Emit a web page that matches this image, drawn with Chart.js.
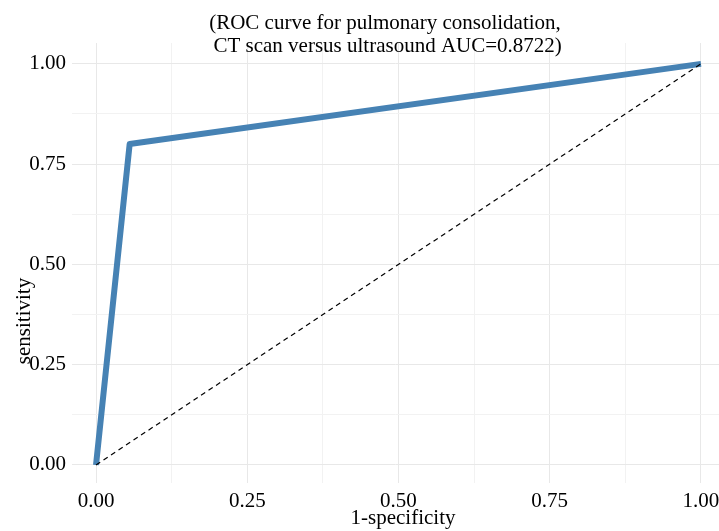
<!DOCTYPE html>
<html>
<head>
<meta charset="utf-8">
<script src="https://cdn.jsdelivr.net/npm/chart.js@4/dist/chart.umd.min.js"></script>
<style>
  html, body { margin: 0; padding: 0; background: #fff; }
  #wrap { width: 719px; height: 531px; position: relative; }
</style>
</head>
<body>
<div id="wrap"><canvas id="roc"></canvas></div>
<script>
// ROC curve values
const fpr = [0, 0.0556, 1];          // 1-specificity
const tpr = [0, 0.80, 1];            // sensitivity
const refX = [0, 1];                 // chance line
const refY = [0, 1];
const majorTicks = [0, 0.25, 0.5, 0.75, 1];
const tickLabels = ['0.00', '0.25', '0.50', '0.75', '1.00'];
const gridTicks = [0, 0.125, 0.25, 0.375, 0.5, 0.625, 0.75, 0.875, 1];

const titleLines = ['(ROC curve for pulmonary consolidation,', ' CT scan versus ultrasound AUC=0.8722)'];
const xTitle = '1-specificity';
const yTitle = 'sensitivity';

const FONT = '"Liberation Serif", "Times New Roman", serif';

function isMajor(v) {
  return majorTicks.some(m => Math.abs(m - v) < 1e-9);
}
function labelFor(v) {
  const i = majorTicks.findIndex(m => Math.abs(m - v) < 1e-9);
  return i >= 0 ? tickLabels[i] : '';
}

// titles drawn as text on top, placed like the ggplot original
const textPlugin = {
  id: 'textPlugin',
  afterDraw(chart) {
    const ctx = chart.ctx;
    ctx.save();
    ctx.fillStyle = '#000';
    ctx.font = '21px ' + FONT;
    ctx.textAlign = 'center';
    ctx.textBaseline = 'middle';
    ctx.fillText(titleLines[0], 385, 23);
    ctx.fillText(titleLines[1], 385, 46);

    ctx.fillText(xTitle, 403, 518);

    ctx.translate(24, 321);
    ctx.rotate(-Math.PI / 2);
    ctx.fillText(yTitle, 0, 0);
    ctx.restore();
  }
};

function gridColor(c) {
  return isMajor(c.tick.value) ? '#e8e8e8' : '#f2f2f2';
}

new Chart(document.getElementById('roc'), {
  type: 'line',
  data: {
    datasets: [{
      data: fpr.map((x, i) => ({ x: x, y: tpr[i] })),
      borderColor: '#4682B4',
      borderWidth: 6,
      borderCapStyle: 'butt',
      borderJoinStyle: 'round',
      pointRadius: 0,
      tension: 0,
      fill: false,
      order: 1
    }, {
      data: refX.map((x, i) => ({ x: x, y: refY[i] })),
      borderColor: '#000',
      borderWidth: 1.2,
      borderDash: [5, 4],
      pointRadius: 0,
      tension: 0,
      fill: false,
      order: 0
    }]
  },
  options: {
    responsive: true,
    maintainAspectRatio: false,
    animation: false,
    layout: { padding: { top: 43, right: 0, left: 0, bottom: 0 } },
    plugins: {
      legend: { display: false },
      tooltip: { enabled: false },
      title: { display: false }
    },
    scales: {
      x: {
        type: 'linear',
        min: -0.0397,
        max: 1.0298,
        border: { display: false },
        grid: { color: gridColor, lineWidth: 1, drawTicks: false },
        afterBuildTicks(scale) { scale.ticks = gridTicks.map(v => ({ value: v })); },
        afterFit(scale) {
          scale.height = 48;
          scale.paddingLeft = 0;
          scale.paddingRight = 0;
        },
        ticks: {
          autoSkip: false,
          maxRotation: 0,
          padding: 6,
          color: '#000',
          font: { family: FONT, size: 21 },
          callback: v => labelFor(v)
        }
      },
      y: {
        type: 'linear',
        min: -0.045,
        max: 1.052,
        border: { display: false },
        grid: { color: gridColor, lineWidth: 1, drawTicks: false },
        afterBuildTicks(scale) { scale.ticks = gridTicks.map(v => ({ value: v })); },
        afterFit(scale) {
          scale.width = 72;
          scale.paddingTop = 0;
          scale.paddingBottom = 0;
        },
        ticks: {
          autoSkip: false,
          padding: 6,
          color: '#000',
          font: { family: FONT, size: 21 },
          callback: v => labelFor(v)
        }
      }
    }
  },
  plugins: [textPlugin]
});
</script>
</body>
</html>
